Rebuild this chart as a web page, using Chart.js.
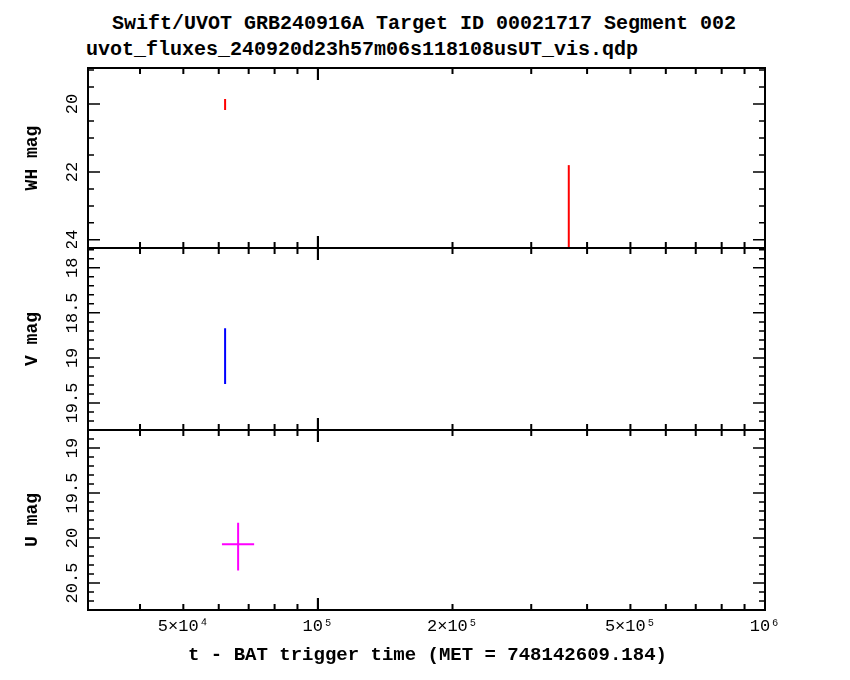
<!DOCTYPE html>
<html><head><meta charset="utf-8">
<script src="https://cdn.jsdelivr.net/npm/chart.js@4"></script>
<style>
body{margin:0;background:#fff;width:850px;height:680px;position:relative;overflow:hidden}
canvas{position:absolute;left:0}
.t{position:absolute;font:bold 20px "Liberation Mono",monospace;color:#000;white-space:nowrap}
</style></head><body>
<div class="t" style="left:112px;top:12px">Swift/UVOT GRB240916A Target ID 00021717 Segment 002</div>
<div class="t" style="left:86px;top:38px">uvot_fluxes_240920d23h57m06s118108usUT_vis.qdp</div>
<canvas id="c1" width="850" height="208" style="top:40px"></canvas>
<canvas id="c2" width="850" height="182" style="top:248px"></canvas>
<canvas id="c3" width="850" height="250" style="top:430px"></canvas>
<script>
// time since trigger (s) and magnitudes
const whT = [62000, 364000];
const whTLo = [61700, 364000];
const whTHi = [62300, 364000];
const whMag = [20.0, 23.4];
const whLo = [19.85, 21.8];
const whHi = [20.18, 25.0];

const vT = [62000];
const vTLo = [61900];
const vTHi = [62100];
const vMag = [18.98];
const vLo = [18.67];
const vHi = [19.29];

const uT = [66300];
const uTLo = [61000];
const uTHi = [72000];
const uMag = [20.07];
const uLo = [19.83];
const uHi = [20.36];

const xLabels = {50000: '5×10⁴', 100000: '10⁵', 200000: '2×10⁵', 500000: '5×10⁵', 1000000: '10⁶'};

const font = '"Liberation Mono", monospace';

function framePlugin(yMajor, yMinor, yFmt, showX) {
  return {
    id: 'frame',
    afterDatasetsDraw(chart) {
      const ctx = chart.ctx, a = chart.chartArea, xs = chart.scales.x, ys = chart.scales.y;
      ctx.save();
      // error bars
      ctx.beginPath(); ctx.rect(a.left, a.top, a.right - a.left, a.bottom - a.top); ctx.clip();
      chart.data.datasets.forEach(ds => {
        ctx.strokeStyle = ds.borderColor; ctx.lineWidth = 2;
        ds.data.forEach(p => {
          const x = xs.getPixelForValue(p.x), y = ys.getPixelForValue(p.y);
          ctx.beginPath();
          ctx.moveTo(x, ys.getPixelForValue(p.lo)); ctx.lineTo(x, ys.getPixelForValue(p.hi));
          ctx.moveTo(xs.getPixelForValue(p.tlo), y); ctx.lineTo(xs.getPixelForValue(p.thi), y);
          ctx.stroke();
        });
      });
      ctx.restore();
      ctx.save();
      ctx.strokeStyle = '#000'; ctx.lineWidth = 2;
      ctx.strokeRect(a.left, a.top, a.right - a.left, a.bottom - a.top);
      // x ticks
      for (let e = 4; e <= 5; e++) for (let m = 1; m <= 10; m++) {
        const v = m * Math.pow(10, e);
        if (v < xs.min || v > xs.max) continue;
        const x = xs.getPixelForValue(v), L = (m === 1 || m === 10) ? 12 : 6;
        ctx.beginPath();
        ctx.moveTo(x, a.top); ctx.lineTo(x, a.top + L);
        ctx.moveTo(x, a.bottom); ctx.lineTo(x, a.bottom - L);
        ctx.stroke();
      }
      // y ticks
      ctx.lineWidth = 1.5;
      const start = Math.ceil(ys.min / yMinor) * yMinor;
      for (let v = start; v <= ys.max + 1e-9; v += yMinor) {
        const y = ys.getPixelForValue(v);
        const maj = Math.abs(v / yMajor - Math.round(v / yMajor)) < 1e-6;
        const L = maj ? 12 : 6;
        ctx.beginPath();
        ctx.moveTo(a.left, y); ctx.lineTo(a.left + L, y);
        ctx.moveTo(a.right, y); ctx.lineTo(a.right - L, y);
        ctx.stroke();
        if (maj) {
          ctx.save(); ctx.translate(a.left - 16, y); ctx.rotate(-Math.PI / 2);
          ctx.font = '17px ' + font; ctx.fillStyle = '#000'; ctx.textAlign = 'center'; ctx.textBaseline = 'middle';
          ctx.fillText(yFmt(v), 0, 0); ctx.restore();
        }
      }
      if (showX) {
        ctx.font = '17px ' + font; ctx.fillStyle = '#000'; ctx.textAlign = 'center'; ctx.textBaseline = 'top';
        Object.keys(xLabels).forEach(k => ctx.fillText(xLabels[k], xs.getPixelForValue(+k), a.bottom + 8));
        ctx.font = 'bold 19px ' + font;
        ctx.fillText('t - BAT trigger time (MET = 748142609.184)', (a.left + a.right) / 2 + 1, a.bottom + 36);
      }
      ctx.restore();
    }
  };
}

function pts(t, tl, th, m, lo, hi) {
  return t.map((v, i) => ({x: v, y: m[i], tlo: tl[i], thi: th[i], lo: lo[i], hi: hi[i]}));
}

function make(id, data, color, yMin, yMax, title, yMajor, yMinor, fmt, showX, padTop, xh) {
  new Chart(document.getElementById(id), {
    type: 'scatter',
    data: {datasets: [{data: data, borderColor: color, backgroundColor: color, pointRadius: 0}]},
    options: {
      responsive: false, animation: false,
      layout: {padding: {left: 18, right: 85, top: padTop, bottom: 0}},
      plugins: {legend: {display: false}, tooltip: {enabled: false}},
      scales: {
        x: {type: 'logarithmic', min: 30600, max: 1000000,
            grid: {display: false}, border: {display: false}, ticks: {display: false},
            afterFit: s => { s.height = xh; }},
        y: {reverse: true, min: yMin, max: yMax,
            grid: {display: false}, border: {display: false}, ticks: {display: false},
            title: {display: true, text: title, font: {family: font, size: 18, weight: 'bold'}, color: '#000'},
            afterFit: s => { s.width = 70; }}
      }
    },
    plugins: [framePlugin(yMajor, yMinor, fmt, showX)]
  });
}

const f = v => String(Math.round(v * 10) / 10);
make('c1', pts(whT, whTLo, whTHi, whMag, whLo, whHi), '#ff0000', 18.94, 24.24, 'WH mag', 2, 0.5, f, false, 28, 0.001);
make('c2', pts(vT, vTLo, vTHi, vMag, vLo, vHi), '#0000ff', 17.78, 19.8, 'V mag', 0.5, 0.1, f, false, 0, 0.001);
make('c3', pts(uT, uTLo, uTHi, uMag, uLo, uHi), '#ff00ff', 18.8, 20.8, 'U mag', 0.5, 0.1, f, true, 0, 70);
</script>
</body></html>
